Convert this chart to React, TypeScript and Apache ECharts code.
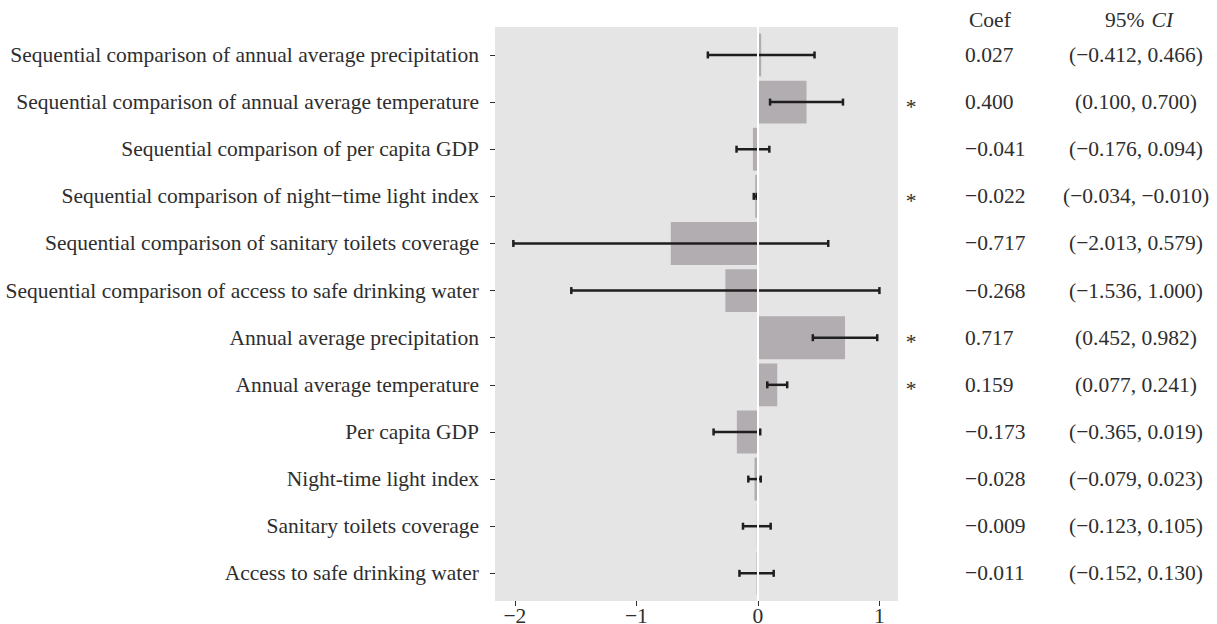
import React, { useEffect, useRef } from "react";
import * as echarts from "echarts";

const categories = [
  "Sequential comparison of annual average precipitation",
  "Sequential comparison of annual average temperature",
  "Sequential comparison of per capita GDP",
  "Sequential comparison of night\u2212time light index",
  "Sequential comparison of sanitary toilets coverage",
  "Sequential comparison of access to safe drinking water",
  "Annual average precipitation",
  "Annual average temperature",
  "Per capita GDP",
  "Night-time light index",
  "Sanitary toilets coverage",
  "Access to safe drinking water",
];
const coefs = [0.027, 0.4, -0.041, -0.022, -0.717, -0.268, 0.717, 0.159, -0.173, -0.028, -0.009, -0.011];
const ciLow = [-0.412, 0.1, -0.176, -0.034, -2.013, -1.536, 0.452, 0.077, -0.365, -0.079, -0.123, -0.152];
const ciHigh = [0.466, 0.7, 0.094, -0.01, 0.579, 1.0, 0.982, 0.241, 0.019, 0.023, 0.105, 0.13];
const significant = [false, true, false, true, false, false, true, true, false, false, false, false];
const xTicks = [-2, -1, 0, 1];
const xMin = -2.164;
const xMax = 1.153;

const FONT = "'Liberation Serif', 'Times New Roman', serif";
const TEXT = "#2e2e2e";
const FS = 21.5;

const fmtNum = (v: number) => (v < 0 ? "\u2212" + Math.abs(v).toFixed(3) : v.toFixed(3));
const coefLabels = coefs.map(fmtNum);
const ciLabels = ciLow.map((lo, i) => `(${fmtNum(lo)}, ${fmtNum(ciHigh[i])})`);
const starLabels = significant.map((s) => (s ? "*" : ""));

export default function App() {
  const ref = useRef<HTMLDivElement>(null);
  useEffect(() => {
    if (!ref.current) return;
    const chart = echarts.init(ref.current, undefined, { renderer: "svg" });
    const gridPos = { left: 495, right: 319, outerBoundsMode: "none", containLabel: false };
    const rightAxis = (data: string[], label: any) => ({
      type: "category",
      gridIndex: 1,
      inverse: true,
      position: "right",
      data,
      axisLine: { show: false, onZero: false },
      axisTick: { show: false },
      axisLabel: { fontSize: FS, color: TEXT, fontFamily: FONT, ...label },
    });
    const option: any = {
      animation: false,
      textStyle: { fontFamily: FONT },
      grid: [
        { ...gridPos, top: 27, bottom: 23, show: true, backgroundColor: "#e5e5e5", borderWidth: 0 },
        { ...gridPos, top: 31.4, bottom: 27.1 },
      ],
      xAxis: [
        {
          type: "value",
          gridIndex: 0,
          min: xMin,
          max: xMax,
          axisLine: { show: false, onZero: false },
          splitLine: { show: false },
          axisTick: { show: true, customValues: xTicks, length: 5, lineStyle: { color: TEXT, width: 1 } },
          axisLabel: {
            customValues: xTicks,
            margin: 4,
            fontSize: FS,
            color: TEXT,
            fontFamily: FONT,
            formatter: (v: number) => (v < 0 ? "\u2212" + Math.abs(v) : String(v)),
          },
        },
        { type: "value", gridIndex: 1, min: xMin, max: xMax, show: false, axisLine: { onZero: false } },
      ],
      yAxis: [
        { type: "value", gridIndex: 0, min: 0, max: 1, show: false, axisLine: { onZero: false } },
        {
          type: "category",
          gridIndex: 1,
          inverse: true,
          position: "left",
          data: categories,
          axisLine: { show: false, onZero: false },
          axisTick: { show: true, alignWithLabel: true, length: 5, lineStyle: { color: TEXT, width: 1 } },
          axisLabel: { margin: 16, fontSize: FS, color: TEXT, fontFamily: FONT },
        },
        rightAxis(coefLabels, { margin: 67, align: "left" }),
        rightAxis(ciLabels, { margin: 238, align: "center" }),
        rightAxis(starLabels, {
          margin: 13,
          align: "center",
          formatter: (v: string) => (v ? "{s|" + v + "}" : ""),
          rich: { s: { fontSize: FS, color: TEXT, fontFamily: FONT, padding: [9, 0, 0, 0] } },
        }),
      ],
      graphic: [
        {
          type: "text",
          left: 969,
          top: 9,
          style: { text: "Coef", fontSize: FS, fill: TEXT, fontFamily: FONT },
        },
        {
          type: "text",
          x: 1139,
          y: 9,
          style: {
            text: "{a|95%} {b|CI}",
            align: "center",
            rich: {
              a: { fontSize: FS, fill: TEXT, fontFamily: FONT },
              b: { fontSize: FS, fill: TEXT, fontFamily: FONT, fontStyle: "italic", padding: [0, 0, 0, 4] },
            },
          },
        },
      ],
      series: [
        {
          type: "line",
          xAxisIndex: 0,
          yAxisIndex: 0,
          data: [],
          z: 1,
          markLine: {
            silent: true,
            symbol: "none",
            label: { show: false },
            lineStyle: { color: "#ffffff", width: 2, type: "solid" },
            data: [{ xAxis: 0 }],
          },
        },
        {
          type: "bar",
          xAxisIndex: 1,
          yAxisIndex: 1,
          data: coefs,
          barWidth: "91%",
          itemStyle: { color: "#b2adb0" },
          z: 3,
        },
        {
          type: "custom",
          xAxisIndex: 1,
          yAxisIndex: 1,
          z: 4,
          data: ciLow.map((lo, i) => [lo, ciHigh[i], i]),
          encode: { x: [0, 1], y: 2 },
          renderItem: (params: any, api: any) => {
            const lo = api.coord([api.value(0), api.value(2)]);
            const hi = api.coord([api.value(1), api.value(2)]);
            const h = 3.5;
            const st = { stroke: "#1e1e1e", lineWidth: 2.5 };
            return {
              type: "group",
              children: [
                { type: "line", shape: { x1: lo[0], y1: lo[1], x2: hi[0], y2: hi[1] }, style: st },
                { type: "line", shape: { x1: lo[0], y1: lo[1] - h, x2: lo[0], y2: lo[1] + h }, style: st },
                { type: "line", shape: { x1: hi[0], y1: hi[1] - h, x2: hi[0], y2: hi[1] + h }, style: st },
              ],
            };
          },
        },
      ],
    };
    chart.setOption(option);
    return () => chart.dispose();
  }, []);
  return (
    <div
      ref={ref}
      style={{ position: "fixed", left: 0, top: 0, width: 1217, height: 624, background: "#ffffff" }}
    />
  );
}
